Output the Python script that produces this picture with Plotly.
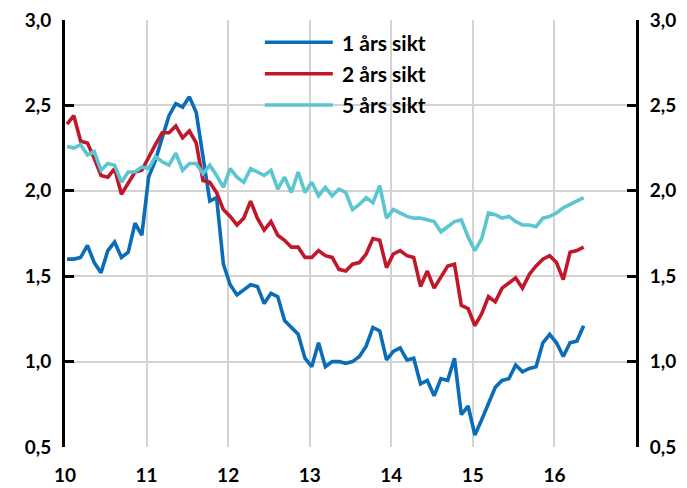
import plotly.graph_objects as go

# ---- data (monthly, Jan 2010 - May 2016) ----
series_names = ["1 års sikt", "2 års sikt", "5 års sikt"]
series_colors = ["#0B6DB7", "#C0182A", "#5BC5D0"]

one_year = [
    1.60, 1.60, 1.61, 1.68, 1.58, 1.52, 1.65, 1.70, 1.61, 1.64, 1.81, 1.74,
    2.08, 2.18, 2.31, 2.44, 2.51, 2.49, 2.55, 2.46, 2.20, 1.94, 1.96, 1.57,
    1.45, 1.39, 1.42, 1.45, 1.44, 1.34, 1.40, 1.38, 1.24, 1.20, 1.16, 1.02,
    0.97, 1.11, 0.97, 1.00, 1.00, 0.99, 1.00, 1.03, 1.09, 1.20, 1.18, 1.01,
    1.06, 1.08, 1.01, 1.02, 0.87, 0.89, 0.80, 0.90, 0.89, 1.02, 0.69, 0.74,
    0.57, 0.66, 0.76, 0.85, 0.89, 0.90, 0.98, 0.94, 0.96, 0.97, 1.11, 1.16,
    1.11, 1.03, 1.11, 1.12, 1.21,
]
two_year = [
    2.39, 2.44, 2.29, 2.28, 2.19, 2.09, 2.08, 2.13, 1.98, 2.05, 2.11, 2.12,
    2.20, 2.27, 2.34, 2.34, 2.38, 2.31, 2.35, 2.28, 2.06, 2.05, 1.99, 1.89,
    1.85, 1.80, 1.84, 1.94, 1.84, 1.77, 1.82, 1.74, 1.71, 1.67, 1.67, 1.61,
    1.61, 1.65, 1.62, 1.61, 1.54, 1.53, 1.57, 1.58, 1.63, 1.72, 1.71, 1.55,
    1.63, 1.65, 1.62, 1.61, 1.44, 1.53, 1.43, 1.50, 1.56, 1.57, 1.33, 1.31,
    1.21, 1.28, 1.38, 1.35, 1.43, 1.46, 1.49, 1.43, 1.51, 1.56, 1.60, 1.62,
    1.58, 1.48, 1.64, 1.65, 1.67,
]
five_year = [
    2.26, 2.25, 2.27, 2.21, 2.23, 2.12, 2.16, 2.15, 2.05, 2.11, 2.11, 2.14,
    2.13, 2.20, 2.17, 2.15, 2.22, 2.12, 2.16, 2.16, 2.10, 2.15, 2.09, 2.02,
    2.13, 2.08, 2.05, 2.13, 2.11, 2.09, 2.12, 2.01, 2.08, 1.99, 2.11, 1.99,
    2.05, 1.97, 2.02, 1.97, 2.01, 1.99, 1.89, 1.92, 1.96, 1.93, 2.03, 1.84,
    1.89, 1.87, 1.85, 1.84, 1.84, 1.83, 1.82, 1.76, 1.79, 1.82, 1.83, 1.73,
    1.65, 1.72, 1.87, 1.86, 1.84, 1.85, 1.82, 1.80, 1.80, 1.79, 1.84, 1.85,
    1.87, 1.90, 1.92, 1.94, 1.96,
]

x_tick_vals = [10, 11, 12, 13, 14, 15, 16]
x_tick_text = ["10", "11", "12", "13", "14", "15", "16"]
y_tick_vals = [0.5, 1.0, 1.5, 2.0, 2.5, 3.0]
y_tick_text = ["0,5", "1,0", "1,5", "2,0", "2,5", "3,0"]

start_year = 10
months = [start_year + (i + 0.3) / 12 for i in range(len(one_year))]

FONT = "Lato"
GRID = "#D3D3D3"

fig = go.Figure()
for name, vals, col in zip(series_names, [one_year, two_year, five_year], series_colors):
    fig.add_trace(go.Scatter(x=months, y=vals, mode="lines", name=name,
                             line=dict(color=col, width=3.6), showlegend=False))

# invisible trace to activate right axis
fig.add_trace(go.Scatter(x=months, y=one_year, yaxis="y2", mode="lines",
                         opacity=0, showlegend=False, hoverinfo="skip",
                         line=dict(width=0)))

# manual legend
legend_y = [0.948, 0.874, 0.801]
shapes = []
annotations = []
for name, col, ly in zip(series_names, series_colors, legend_y):
    shapes.append(dict(type="line", xref="paper", yref="paper",
                       x0=0.350, x1=0.469, y0=ly, y1=ly,
                       line=dict(color=col, width=3.6)))
    annotations.append(dict(xref="paper", yref="paper", x=0.482, y=ly,
                            xanchor="left", yanchor="middle",
                            text="<b>" + name + "</b>",
                            showarrow=False,
                            font=dict(family=FONT, size=21, color="black")))

axis_font = dict(family=FONT, size=19, color="black")
bold = lambda lst: ["<b>" + s + "</b>" for s in lst]

fig.update_layout(
    width=687, height=488,
    margin=dict(l=65, r=51, t=20, b=41),
    paper_bgcolor="white", plot_bgcolor="white",
    shapes=shapes, annotations=annotations,
    xaxis=dict(range=[10, 17], tickvals=x_tick_vals, ticktext=bold(x_tick_text),
               showgrid=True, gridcolor=GRID, gridwidth=1.5,
               zeroline=False, showline=False, automargin=False,
               ticks="outside", ticklen=11, tickcolor="rgba(0,0,0,0)",
               tickfont=axis_font),
    yaxis=dict(range=[0.5, 3.0], tickvals=y_tick_vals, ticktext=bold(y_tick_text),
               showgrid=True, gridcolor=GRID, gridwidth=1.5,
               zeroline=False, showline=True, linecolor="black", linewidth=3,
               ticks="inside", ticklen=9, tickwidth=3, tickcolor="black",
               ticklabelstandoff=7, tickfont=axis_font, automargin=False),
    yaxis2=dict(range=[0.5, 3.0], tickvals=y_tick_vals, ticktext=bold(y_tick_text),
                overlaying="y", side="right",
                showgrid=False, zeroline=False, showline=True,
                linecolor="black", linewidth=3,
                ticks="inside", ticklen=9, tickwidth=3, tickcolor="black",
                ticklabelstandoff=7, tickfont=axis_font, automargin=False),
)

fig.write_html("out.html", config={"displayModeBar": False},
               post_script="document.body.style.margin='0px';document.body.style.overflow='hidden';")
